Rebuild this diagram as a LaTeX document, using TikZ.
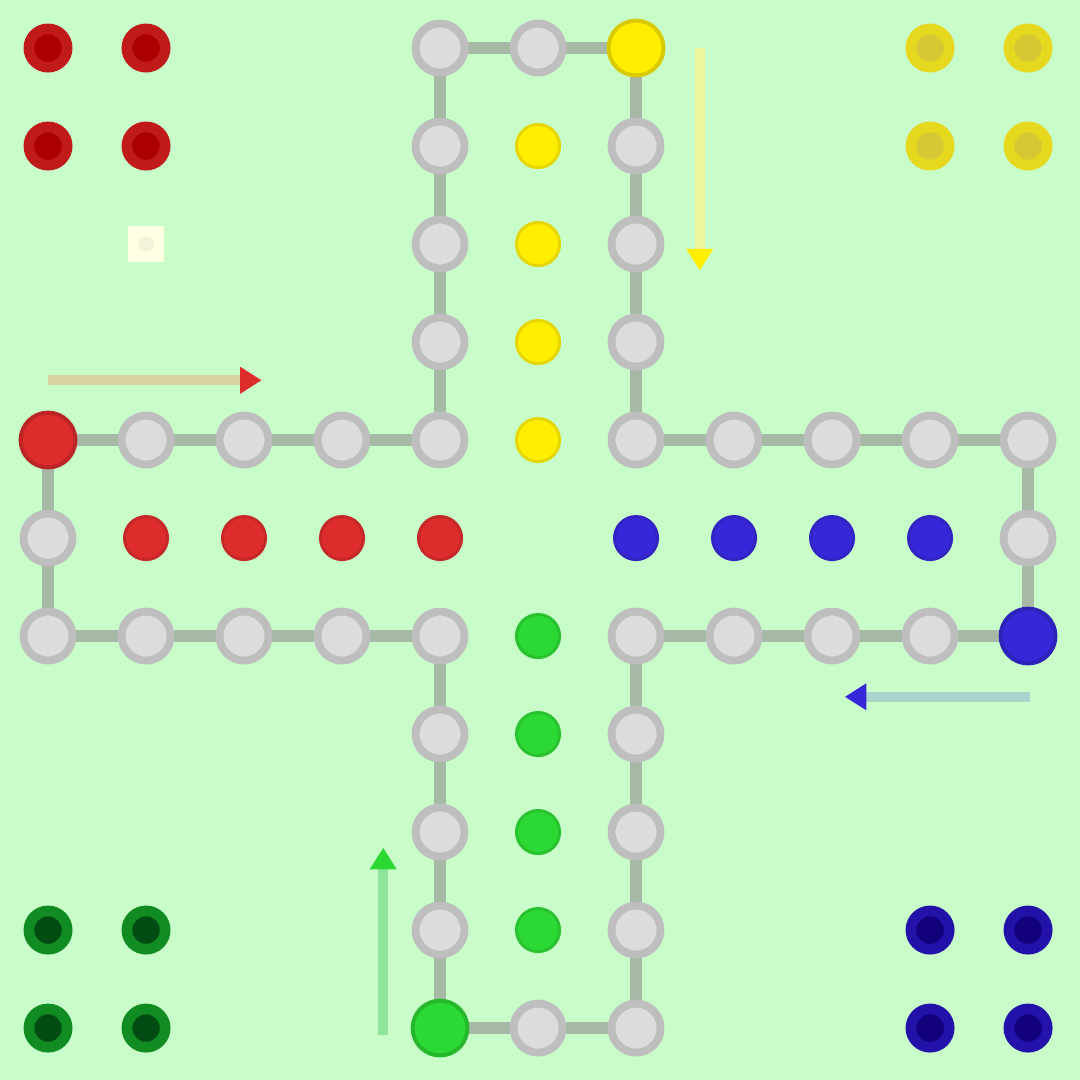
\documentclass[tikz,border=0pt]{standalone}
\usetikzlibrary{arrows.meta}
\definecolor{bgc}{HTML}{C8FCC8}
\definecolor{fieldc}{HTML}{DCDCDC}
\definecolor{ringc}{HTML}{BEBEBE}
\definecolor{trackc}{HTML}{A6B8A6}
\definecolor{redc}{HTML}{DC2C2C}
\definecolor{yelc}{HTML}{FFEE00}
\definecolor{bluc}{HTML}{3628D8}
\definecolor{grnc}{HTML}{2CD834}
\definecolor{redo}{HTML}{C01A1A}\definecolor{redi}{HTML}{AA0000}
\definecolor{yelo}{HTML}{E6D81E}\definecolor{yeli}{HTML}{D6C832}
\definecolor{grno}{HTML}{108C22}\definecolor{grni}{HTML}{004C12}
\definecolor{bluo}{HTML}{2212AA}\definecolor{blui}{HTML}{12007C}
\definecolor{redl}{HTML}{D6D2A2}
\definecolor{yell}{HTML}{EEF6A0}
\definecolor{blul}{HTML}{A8D4CC}
\definecolor{grnl}{HTML}{8EE498}
\definecolor{dief}{HTML}{FFFFE4}
\definecolor{diei}{HTML}{F4F4DA}
\pgfdeclarelayer{bg}
\pgfdeclarelayer{lines}
\pgfsetlayers{bg,lines,main}
\tikzset{
  field/.style={circle,fill=fieldc,draw=ringc,line width=0.08cm,minimum size=0.5cm,inner sep=0pt},
  startf/.style={circle,fill=#1,draw=#1!85!black,line width=0.04cm,minimum size=0.56cm,inner sep=0pt},
  target/.style={circle,fill=#1,draw=#1!90!black,line width=0.03cm,minimum size=0.44cm,inner sep=0pt},
  homep/.style 2 args={circle,fill=#1,minimum size=0.5cm,inner sep=0pt,
     path picture={\fill[#2] (path picture bounding box.center) circle (0.14);}},
  track/.style={trackc,line width=0.12cm},
  dirarrow/.style 2 args={draw=#1,line width=0.1cm,-{Triangle[color=#2,length=0.22cm,width=0.26cm]}}
}
\begin{document}
\begin{tikzpicture}[x=1cm,y=-1cm]
\useasboundingbox (-0.49,-0.49) rectangle (10.53,10.53);
\begin{pgfonlayer}{bg}
\fill[bgc] (-0.49,-0.49) rectangle (10.53,10.53);
\end{pgfonlayer}
% track
\foreach \i/\j/\s [count=\n from 0] in {6/0/yelc,6/1/,6/2/,6/3/,6/4/,7/4/,8/4/,9/4/,10/4/,10/5/,
  10/6/bluc,9/6/,8/6/,7/6/,6/6/,6/7/,6/8/,6/9/,6/10/,5/10/,
  4/10/grnc,4/9/,4/8/,4/7/,4/6/,3/6/,2/6/,1/6/,0/6/,0/5/,
  0/4/redc,1/4/,2/4/,3/4/,4/4/,4/3/,4/2/,4/1/,4/0/,5/0/}{
  \ifx\s\empty
    \node[field] (t\n) at (\i,\j) {};
  \else
    \node[startf=\s] (t\n) at (\i,\j) {};
  \fi
}
\begin{pgfonlayer}{lines}
\foreach \n [evaluate=\n as \m using {int(mod(\n+1,40))}] in {0,...,39}
  \draw[track] (t\n.center) -- (t\m.center);
\end{pgfonlayer}
% target fields
\foreach \k in {1,...,4}{
  \node[target=yelc] (ty\k) at (5,\k) {};
  \node[target=bluc] (tb\k) at (10-\k,5) {};
  \node[target=grnc] (tg\k) at (5,10-\k) {};
  \node[target=redc] (tr\k) at (\k,5) {};
}
% home pieces
\foreach \a/\b [count=\k] in {0/0,1/0,0/1,1/1}{
  \node[homep={redo}{redi}] (hr\k) at (\a,\b) {};
  \node[homep={yelo}{yeli}] (hy\k) at (9+\a,\b) {};
  \node[homep={grno}{grni}] (hg\k) at (\a,9+\b) {};
  \node[homep={bluo}{blui}] (hb\k) at (9+\a,9+\b) {};
}
% die
\node[rectangle,fill=dief,minimum size=0.36cm,inner sep=0pt,
  path picture={\fill[diei] (path picture bounding box.center) circle (0.08);}] (die) at (1,2) {};
% direction arrows
\coordinate (ra) at (0,3.39); \coordinate (rb) at (2.18,3.39);
\coordinate (ya) at (6.65,0); \coordinate (yb) at (6.65,2.27);
\coordinate (ba) at (10.02,6.62); \coordinate (bb) at (8.13,6.62);
\coordinate (ga) at (3.42,10.07); \coordinate (gb) at (3.42,8.16);
\draw[dirarrow={redl}{redc}] (ra) -- (rb);
\draw[dirarrow={yell}{yelc}] (ya) -- (yb);
\draw[dirarrow={blul}{bluc}] (ba) -- (bb);
\draw[dirarrow={grnl}{grnc}] (ga) -- (gb);
\end{tikzpicture}
\end{document}
